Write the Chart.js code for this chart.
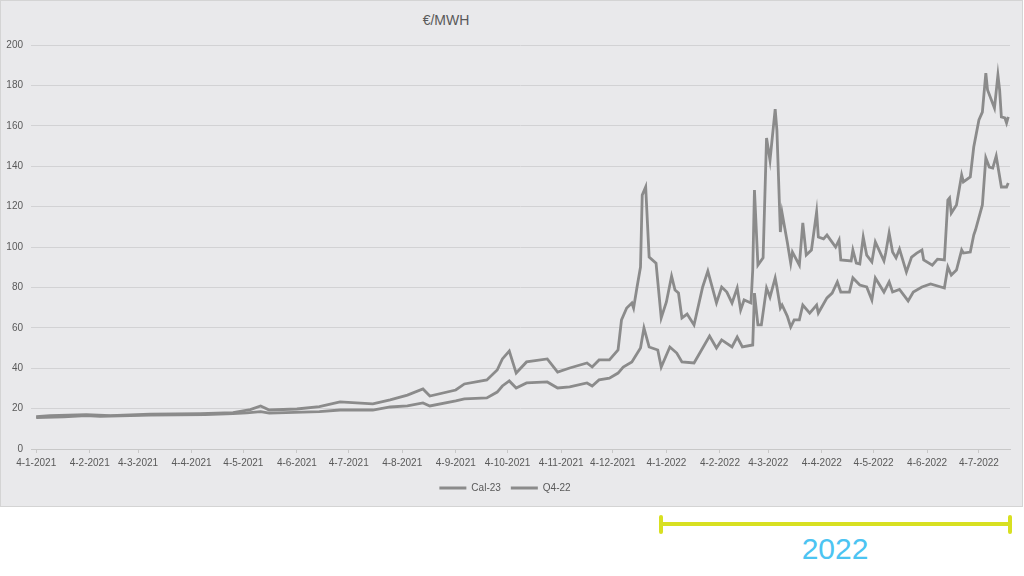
<!DOCTYPE html>
<html>
<head>
<meta charset="utf-8">
<script src="https://cdn.jsdelivr.net/npm/chart.js@4"></script>
<style>
  html, body { margin: 0; padding: 0; background: #ffffff; }
  body { width: 1024px; height: 576px; position: relative; overflow: hidden; font-family: "Liberation Sans", Arial, sans-serif; }
  #box { position: absolute; left: 0; top: 0; width: 1023px; height: 507px; box-sizing: border-box; background: #e9e9eb; border: 1px solid #d4d4d4; }
  #wrap { position: absolute; left: 0; top: 0; width: 1022px; height: 506px; }
  #title { position: absolute; top: 13px; left: 346px; width: 200px; text-align: center; font-size: 14px; line-height: 14px; color: #595959; }
  .bar { position: absolute; background: #d8e021; border-radius: 2px; }
  #year { position: absolute; top: 534px; left: 785px; width: 100px; text-align: center; font-size: 30px; line-height: 30px; color: #4cc4f2; }
</style>
</head>
<body>
<div id="box"></div>
<div id="title">€/MWH</div>
<div id="wrap"><canvas id="priceChart"></canvas></div>
<div class="bar" style="left:661px; top:522px; width:349px; height:4px;"></div>
<div class="bar" style="left:659px; top:515px; width:4px; height:19px;"></div>
<div class="bar" style="left:1008px; top:515px; width:4px; height:19px;"></div>
<div id="year">2022</div>
<script>
// x-as labels (d-m-jjjj)
const tickLabels = ['4-1-2021', '4-2-2021', '4-3-2021', '4-4-2021', '4-5-2021', '4-6-2021',
    '4-7-2021', '4-8-2021', '4-9-2021', '4-10-2021', '4-11-2021', '4-12-2021',
    '4-1-2022', '4-2-2022', '4-3-2022', '4-4-2022', '4-5-2022', '4-6-2022', '4-7-2022'];

// Cal-23
const calDates = ['2021-01-04', '2021-01-20', '2021-02-02', '2021-02-10', '2021-03-11', '2021-04-12',
    '2021-04-28', '2021-05-06', '2021-05-14', '2021-05-19',
    '2021-06-17', '2021-06-29', '2021-07-18', '2021-07-28', '2021-08-07', '2021-08-16', '2021-08-20',
    '2021-09-04', '2021-09-09', '2021-09-22', '2021-09-28', '2021-10-01', '2021-10-05', '2021-10-09',
    '2021-10-15', '2021-10-27', '2021-11-02', '2021-11-09', '2021-11-19', '2021-11-22', '2021-11-26',
    '2021-12-02', '2021-12-07', '2021-12-10', '2021-12-15', '2021-12-20', '2021-12-22', '2021-12-25',
    '2021-12-30', '2022-01-01', '2022-01-06', '2022-01-10', '2022-01-13', '2022-01-20', '2022-01-29',
    '2022-02-02', '2022-02-05', '2022-02-11', '2022-02-14', '2022-02-17', '2022-02-23', '2022-02-24',
    '2022-02-26', '2022-02-28', '2022-03-03', '2022-03-05', '2022-03-08', '2022-03-09', '2022-03-11',
    '2022-03-12', '2022-03-15', '2022-03-17', '2022-03-19', '2022-03-22', '2022-03-24', '2022-03-28',
    '2022-04-01', '2022-04-02', '2022-04-07', '2022-04-10', '2022-04-13', '2022-04-15', '2022-04-20',
    '2022-04-22', '2022-04-26', '2022-04-30', '2022-05-03', '2022-05-05', '2022-05-10', '2022-05-13',
    '2022-05-15', '2022-05-19', '2022-05-24', '2022-05-27', '2022-06-01', '2022-06-06', '2022-06-14',
    '2022-06-16', '2022-06-18', '2022-06-21', '2022-06-24', '2022-06-25', '2022-06-29', '2022-07-01',
    '2022-07-02', '2022-07-06', '2022-07-08', '2022-07-10', '2022-07-12', '2022-07-14', '2022-07-17',
    '2022-07-20', '2022-07-21'];
const calValues = [15.5, 15.9, 16.5, 16.2, 16.8, 17.0,
    17.5, 17.9, 18.5, 17.8,
    18.5, 19.3, 19.3, 20.8, 21.3, 22.8, 21.3,
    23.8, 24.8, 25.3, 28.2, 31.2, 33.7, 30.2,
    32.7, 33.2, 30.2, 30.7, 32.7, 31.2, 34.2,
    35.1, 37.6, 40.6, 43.1, 50, 59.9, 50.5,
    49, 40.6, 50.5, 47.5, 43.1, 42.6, 55.9,
    50, 54, 50.5, 55.4, 50.5, 51.5, 77.2,
    61.4, 61.4, 79.7, 75.2, 84.7, 80.2, 69.8,
    71.3, 65.8, 60.4, 63.9, 63.9, 71.3, 67.3,
    71.3, 67.3, 74.8, 77.2, 82.7, 77.7, 77.7,
    84.7, 81.2, 80.2, 73.8, 84.7, 77.7, 82.7,
    77.7, 79, 73.3, 77.7, 80.2, 81.7, 79.7,
    90.1, 86.1, 88.6, 98.5, 97, 97.5, 105.9,
    108.4, 120.8, 144.1, 139.6, 139.1, 145, 129.7,
    129.7, 131.7];

// Q4-22
const q4Dates = ['2021-01-04', '2021-01-12', '2021-02-02', '2021-02-16', '2021-03-11', '2021-04-09',
    '2021-04-28', '2021-05-08', '2021-05-14', '2021-05-19', '2021-06-04', '2021-06-17', '2021-06-29',
    '2021-07-18', '2021-07-28', '2021-08-07', '2021-08-16', '2021-08-20', '2021-09-04', '2021-09-09',
    '2021-09-22', '2021-09-28', '2021-10-01', '2021-10-05', '2021-10-09', '2021-10-15', '2021-10-27',
    '2021-11-02', '2021-11-09', '2021-11-19', '2021-11-22', '2021-11-26', '2021-12-02', '2021-12-07',
    '2021-12-09', '2021-12-12', '2021-12-15', '2021-12-16', '2021-12-18', '2021-12-20', '2021-12-21',
    '2021-12-23', '2021-12-25', '2021-12-29', '2022-01-01', '2022-01-04', '2022-01-07', '2022-01-09',
    '2022-01-11', '2022-01-13', '2022-01-16', '2022-01-20', '2022-01-25', '2022-01-28', '2022-02-02',
    '2022-02-05', '2022-02-08', '2022-02-11', '2022-02-14', '2022-02-16', '2022-02-18', '2022-02-22',
    '2022-02-23', '2022-02-24', '2022-02-26', '2022-03-01', '2022-03-03', '2022-03-05', '2022-03-08',
    '2022-03-09', '2022-03-11', '2022-03-12', '2022-03-15', '2022-03-17', '2022-03-18', '2022-03-22',
    '2022-03-24', '2022-03-26', '2022-03-29', '2022-04-01', '2022-04-02', '2022-04-05', '2022-04-07',
    '2022-04-12', '2022-04-14', '2022-04-15', '2022-04-21', '2022-04-22', '2022-04-24', '2022-04-26',
    '2022-04-28', '2022-04-30', '2022-05-03', '2022-05-05', '2022-05-10', '2022-05-11', '2022-05-13',
    '2022-05-15', '2022-05-17', '2022-05-19', '2022-05-23', '2022-05-26', '2022-05-29', '2022-06-01',
    '2022-06-02', '2022-06-07', '2022-06-10', '2022-06-14', '2022-06-16', '2022-06-17', '2022-06-18',
    '2022-06-21', '2022-06-24', '2022-06-25', '2022-06-29', '2022-07-01', '2022-07-04', '2022-07-06',
    '2022-07-08', '2022-07-09', '2022-07-13', '2022-07-15', '2022-07-16', '2022-07-17', '2022-07-19',
    '2022-07-20', '2022-07-21'];
const q4Values = [16, 16.5, 17, 16.5, 17.2, 17.5,
    18, 19.5, 21.3, 19.3, 19.8, 21, 23.3,
    22.3, 24.3, 26.7, 29.7, 26.2, 29.2, 32.2,
    34.2, 39.1, 44.6, 48.5, 37.6, 43.1, 44.6,
    38.1, 40.1, 42.6, 40.6, 44.1, 44.1, 49,
    63.9, 69.8, 72.3, 69.8, 80.2, 90.1, 125.7,
    129.7, 95, 92, 64.9, 72.8, 85.6, 78.7,
    77.2, 64.9, 66.8, 61.4, 80.2, 88.1, 72.3,
    80.2, 77.7, 72.3, 79.7, 68.8, 73.8, 72.3,
    88.6, 128.2, 91, 94.6, 154, 143, 168.3,
    157.9, 107.4, 116.8, 102.5, 92, 97.5, 91,
    111.9, 96, 98.5, 117.3, 104.9, 104, 105.9,
    100, 103.5, 93.6, 93.1, 98.5, 92, 91.6,
    104.9, 96, 92.6, 102.5, 93.1, 97, 106.9,
    97.5, 94.6, 99, 87.6, 95, 97, 98.5,
    93.6, 91, 94, 93.6, 123.3, 124.3, 116.8,
    120.8, 135.6, 132.2, 134.7, 149.5, 162.9, 166.8,
    186.1, 177.7, 168.8, 185.1, 177.7, 164.4, 163.9,
    161.4, 164.4];

const lineColor = '#8b8b8b';
const startDay = Date.UTC(2021, 0, 4);

function isoToDay(s) {
    const [y, m, d] = s.split('-').map(Number);
    return (Date.UTC(y, m - 1, d) - startDay) / 86400000;
}

function labelToDay(s) {
    const [d, m, y] = s.split('-').map(Number);
    return (Date.UTC(y, m - 1, d) - startDay) / 86400000;
}

function toPoints(dates, values) {
    return dates.map((d, i) => ({x: isoToDay(d), y: values[i]}));
}

const tickDays = tickLabels.map(labelToDay);

const ctx = document.getElementById('priceChart').getContext('2d');
new Chart(ctx, {
    type: 'line',
    data: {
        datasets: [{
            label: 'Cal-23',
            data: toPoints(calDates, calValues),
            borderColor: lineColor,
            backgroundColor: lineColor,
            borderWidth: 2.8,
            pointRadius: 0,
            tension: 0
        }, {
            label: 'Q4-22',
            data: toPoints(q4Dates, q4Values),
            borderColor: lineColor,
            backgroundColor: lineColor,
            borderWidth: 2.8,
            pointRadius: 0,
            tension: 0
        }]
    },
    options: {
        responsive: true,
        maintainAspectRatio: false,
        animation: false,
        devicePixelRatio: 1,
        layout: {
            padding: {top: 45, right: 12, bottom: 3, left: 0}
        },
        plugins: {
            tooltip: {enabled: false},
            legend: {
                position: 'bottom',
                labels: {
                    font: {family: 'Liberation Sans', size: 10},
                    color: '#595959',
                    boxWidth: 27,
                    boxHeight: 3,
                    padding: 10,
                    generateLabels: function (chart) {
                        const items = Chart.defaults.plugins.legend.labels.generateLabels(chart);
                        items.forEach(item => {
                            item.lineWidth = 0;
                            item.fillStyle = lineColor;
                        });
                        return items;
                    }
                }
            }
        },
        scales: {
            x: {
                type: 'linear',
                min: -3,
                max: 564,
                afterBuildTicks: function (scale) {
                    scale.ticks = tickDays.map(v => ({value: v}));
                },
                ticks: {
                    autoSkip: false,
                    maxRotation: 0,
                    padding: 4,
                    font: {family: 'Liberation Sans', size: 10},
                    color: '#595959',
                    callback: function (value) {
                        const i = tickDays.indexOf(value);
                        return i >= 0 ? tickLabels[i] : '';
                    }
                },
                grid: {
                    drawOnChartArea: false,
                    drawTicks: true,
                    tickLength: 4,
                    color: '#c8c8c8'
                },
                border: {color: '#c8c8c8'}
            },
            y: {
                min: 0,
                max: 200,
                afterFit: function (scale) {
                    scale.width = 31;
                },
                ticks: {
                    stepSize: 20,
                    padding: 8,
                    font: {family: 'Liberation Sans', size: 10},
                    color: '#595959'
                },
                grid: {
                    color: '#d2d2d4',
                    drawTicks: false
                },
                border: {display: false}
            }
        }
    }
});
</script>
</body>
</html>
